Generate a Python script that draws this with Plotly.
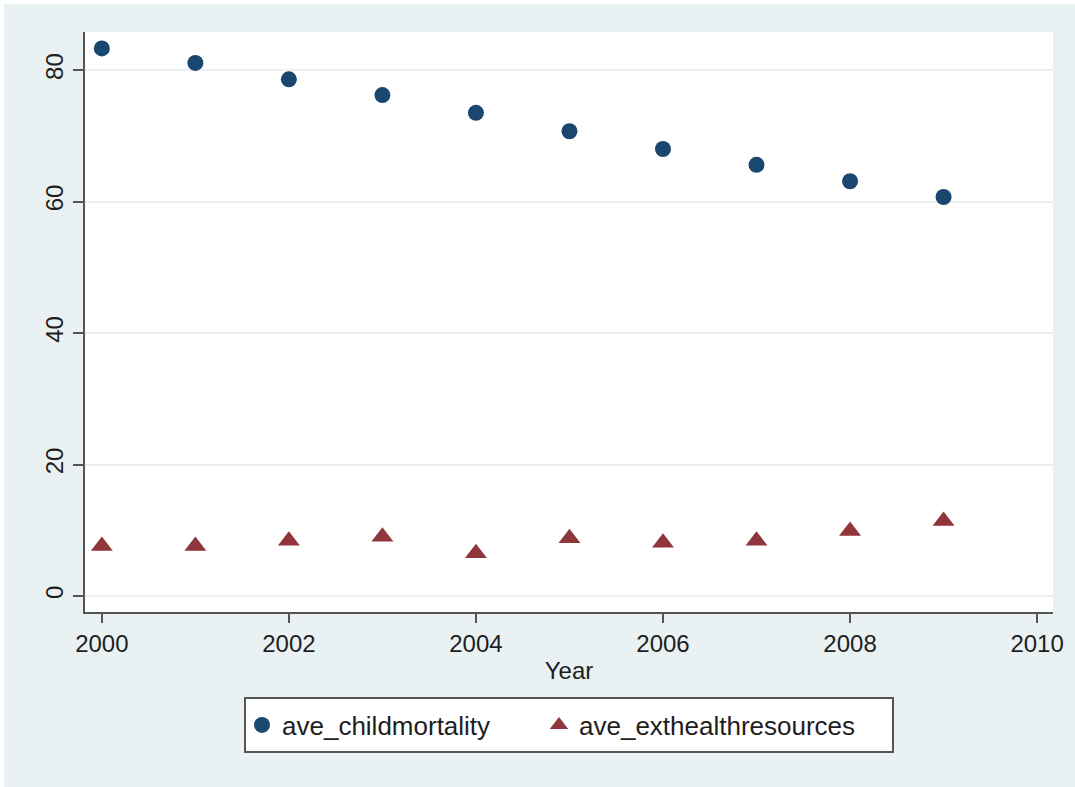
import plotly.graph_objects as go

years = [2000, 2001, 2002, 2003, 2004, 2005, 2006, 2007, 2008, 2009]
ave_childmortality = [83.3, 81.1, 78.6, 76.2, 73.5, 70.7, 68.0, 65.6, 63.1, 60.7]
ave_exthealthresources = [7.6, 7.6, 8.4, 9.0, 6.5, 8.8, 8.1, 8.4, 9.9, 11.4]
x_ticks = [2000, 2002, 2004, 2006, 2008, 2010]
y_ticks = [0, 20, 40, 60, 80]

FONT = "Liberation Sans, Arial, Helvetica, sans-serif"
BG = "#E9F1F2"
NAVY = "#1A476F"
MAROON = "#90353B"
AXIS = "#555555"
TXT = "#1e1e1e"

# plot area in pixels (for paper-coordinate conversion)
L, R, T, B = 85, 1053, 32, 612
W, H = R - L, B - T

def px(xpix):
    return (xpix - L) / W

def py(ypix):
    return (B - ypix) / H

fig = go.Figure()
fig.add_trace(go.Scatter(
    x=years, y=ave_childmortality, mode="markers", name="ave_childmortality",
    marker=dict(symbol="circle", size=16, color=NAVY, line=dict(width=0)),
    legend="legend",
))
fig.add_trace(go.Scatter(
    x=years, y=ave_exthealthresources, mode="markers", name="ave_exthealthresources",
    marker=dict(symbol="triangle-up", size=19, color=MAROON, line=dict(width=0)),
    legend="legend2",
))

# legend frame
fig.add_shape(type="rect", xref="paper", yref="paper",
              x0=px(245), x1=px(893), y0=py(752), y1=py(698),
              fillcolor="white", line=dict(color=AXIS, width=2), layer="below")
# thin white band along the top and left edge of the image
fig.add_shape(type="line", xref="paper", yref="paper",
              x0=px(0), x1=px(1075), y0=py(2), y1=py(2),
              line=dict(color="white", width=4), layer="below")
fig.add_shape(type="line", xref="paper", yref="paper",
              x0=px(2), x1=px(2), y0=py(0), y1=py(787),
              line=dict(color="white", width=4), layer="below")

legend_common = dict(
    orientation="h", bgcolor="rgba(0,0,0,0)", borderwidth=0,
    font=dict(family=FONT, size=26, color=TXT),
    itemsizing="trace", yanchor="middle", y=py(725), xanchor="left",
)

fig.update_layout(
    width=1075, height=787,
    paper_bgcolor=BG, plot_bgcolor="white",
    margin=dict(l=L, r=1075 - R, t=T, b=787 - B, pad=0),
    font=dict(family=FONT, size=24, color=TXT),
    showlegend=True,
    legend=dict(x=px(242), **legend_common),
    legend2=dict(x=px(539), **legend_common),
    xaxis=dict(
        range=[1999.82, 2010.17], tickmode="array", tickvals=x_ticks,
        ticks="outside", ticklen=9, tickwidth=2, tickcolor=AXIS,
        showline=True, linecolor=AXIS, linewidth=2, showgrid=False, zeroline=False,
        tickfont=dict(family=FONT, size=24, color=TXT),
        title=dict(text="Year", font=dict(family=FONT, size=24, color=TXT), standoff=6),
    ),
    yaxis=dict(
        range=[-2.43, 85.8], tickmode="array", tickvals=y_ticks,
        ticks="outside", ticklen=10, tickwidth=2, tickcolor=AXIS, tickangle=-90,
        showline=True, linecolor=AXIS, linewidth=2,
        showgrid=True, gridcolor="#EAF0F1", gridwidth=1.5, zeroline=False,
        tickfont=dict(family=FONT, size=24, color=TXT),
    ),
)

fig.write_html(
    "out.html",
    config={"displayModeBar": False},
    post_script="document.body.style.margin='0';document.body.style.overflow='hidden';",
)
